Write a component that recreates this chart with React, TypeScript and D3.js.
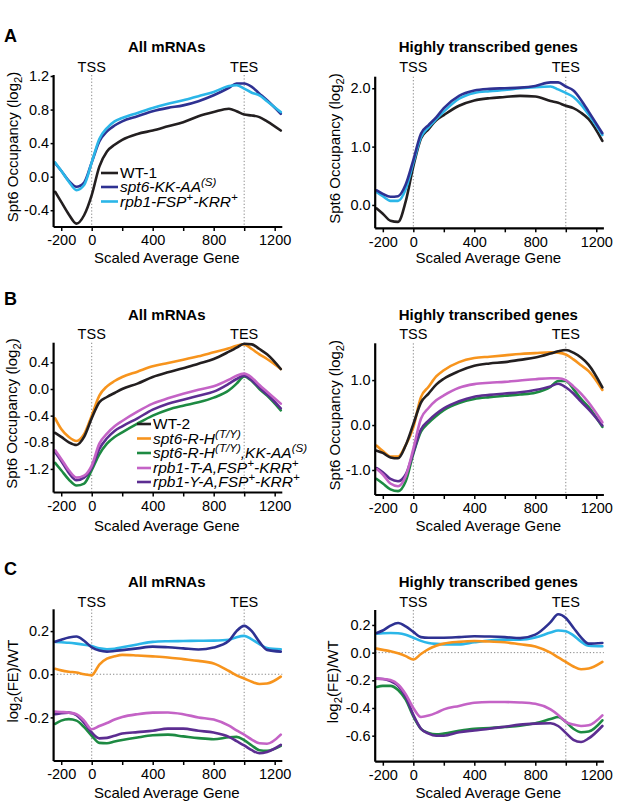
import React, { useEffect, useRef } from "react";
import * as d3 from "d3";

// ---------- DATA ----------
const X_POS = [-240, -200, -150, -100, -50, 0, 50, 100, 150, 200, 300, 400, 500, 600, 700, 800, 900, 950, 1000, 1050, 1100, 1150, 1240];
const X_TICKS = [-200, 0, 200, 400, 600, 800, 1000, 1200];
const X_TICK_LABELS = [-200, 0, 400, 800, 1200];

// Panel A – All mRNAs
const A_ALL_WT1 = [-0.18, -0.3, -0.45, -0.56, -0.46, -0.22, 0.12, 0.3, 0.38, 0.44, 0.51, 0.55, 0.6, 0.65, 0.72, 0.77, 0.81, 0.78, 0.74, 0.73, 0.71, 0.66, 0.55];
const A_ALL_KKAA = [0.16, 0.07, -0.05, -0.12, -0.07, 0.17, 0.42, 0.54, 0.61, 0.66, 0.72, 0.78, 0.82, 0.85, 0.9, 0.97, 1.06, 1.11, 1.11, 1.07, 0.99, 0.91, 0.75];
const A_ALL_FSP = [0.17, 0.07, -0.06, -0.16, -0.1, 0.17, 0.45, 0.58, 0.66, 0.7, 0.76, 0.82, 0.87, 0.91, 0.96, 1.01, 1.08, 1.09, 1.05, 1.0, 0.97, 0.9, 0.77];
// Panel A – Highly transcribed genes
const A_HIGH_WT1 = [-0.06, -0.15, -0.27, -0.29, 0.06, 0.66, 1.14, 1.3, 1.45, 1.54, 1.7, 1.79, 1.83, 1.85, 1.87, 1.86, 1.78, 1.75, 1.7, 1.66, 1.58, 1.47, 1.1];
const A_HIGH_KKAA = [0.25, 0.19, 0.14, 0.15, 0.35, 0.77, 1.22, 1.37, 1.5, 1.66, 1.87, 1.96, 1.99, 2.0, 2.01, 2.04, 2.1, 2.1, 2.03, 1.96, 1.8, 1.6, 1.23];
const A_HIGH_FSP = [0.22, 0.15, 0.07, 0.07, 0.27, 0.72, 1.16, 1.33, 1.47, 1.6, 1.82, 1.92, 1.95, 1.97, 2.0, 2.02, 2.03, 1.98, 1.92, 1.85, 1.72, 1.55, 1.2];

// Panel B – All mRNAs
const B_ALL_WT2 = [-0.66, -0.72, -0.8, -0.84, -0.72, -0.44, -0.2, -0.12, -0.06, 0.0, 0.08, 0.18, 0.25, 0.31, 0.38, 0.45, 0.56, 0.62, 0.68, 0.67, 0.6, 0.52, 0.3];
const B_ALL_RH = [-0.44, -0.6, -0.72, -0.78, -0.68, -0.4, -0.1, 0.04, 0.12, 0.18, 0.26, 0.34, 0.39, 0.44, 0.49, 0.55, 0.61, 0.65, 0.67, 0.6, 0.52, 0.45, 0.3];
const B_ALL_RHKK = [-1.11, -1.22, -1.36, -1.45, -1.42, -1.22, -0.98, -0.82, -0.72, -0.65, -0.52, -0.4, -0.31, -0.25, -0.2, -0.13, -0.02, 0.08, 0.19, 0.12, 0.0, -0.1, -0.32];
const B_ALL_TA = [-0.92, -1.05, -1.22, -1.33, -1.3, -1.15, -0.82, -0.67, -0.56, -0.48, -0.34, -0.22, -0.14, -0.07, -0.01, 0.04, 0.14, 0.2, 0.23, 0.17, 0.06, -0.04, -0.22];
const B_ALL_YA = [-0.95, -1.08, -1.26, -1.37, -1.33, -1.18, -0.9, -0.74, -0.63, -0.56, -0.44, -0.31, -0.22, -0.16, -0.1, -0.04, 0.08, 0.15, 0.2, 0.13, 0.02, -0.08, -0.29];
// Panel B – Highly transcribed genes
const B_HIGH_WT2 = [-0.57, -0.62, -0.72, -0.74, -0.45, 0.02, 0.5, 0.7, 0.9, 1.03, 1.2, 1.32, 1.37, 1.4, 1.45, 1.5, 1.59, 1.64, 1.67, 1.61, 1.5, 1.34, 0.84];
const B_HIGH_RH = [-0.46, -0.58, -0.7, -0.7, -0.45, -0.05, 0.62, 0.85, 1.08, 1.22, 1.4, 1.49, 1.52, 1.55, 1.58, 1.6, 1.62, 1.61, 1.57, 1.46, 1.33, 1.2, 0.78];
const B_HIGH_RHKK = [-1.2, -1.3, -1.43, -1.47, -1.25, -0.64, -0.15, 0.05, 0.2, 0.33, 0.49, 0.58, 0.62, 0.65, 0.68, 0.72, 0.85, 0.98, 0.98, 0.8, 0.58, 0.4, -0.04];
const B_HIGH_TA = [-0.98, -1.1, -1.3, -1.36, -1.14, -0.53, 0.14, 0.38, 0.55, 0.66, 0.83, 0.91, 0.94, 0.96, 0.99, 1.02, 1.04, 1.04, 1.0, 0.86, 0.7, 0.5, 0.06];
const B_HIGH_YA = [-0.96, -1.05, -1.2, -1.25, -1.1, -0.61, -0.1, 0.1, 0.25, 0.37, 0.53, 0.63, 0.67, 0.7, 0.73, 0.78, 0.86, 0.92, 0.84, 0.7, 0.52, 0.35, -0.01];

// Panel C – All mRNAs (log2 FE / WT)
const C_ALL_KKAA = [0.151, 0.16, 0.17, 0.175, 0.155, 0.125, 0.11, 0.105, 0.108, 0.112, 0.12, 0.128, 0.125, 0.12, 0.115, 0.124, 0.155, 0.2, 0.224, 0.2, 0.15, 0.113, 0.105];
const C_ALL_FSP = [0.15, 0.148, 0.146, 0.142, 0.137, 0.131, 0.12, 0.116, 0.118, 0.125, 0.138, 0.15, 0.153, 0.154, 0.155, 0.156, 0.16, 0.172, 0.178, 0.162, 0.14, 0.122, 0.116];
const C_ALL_RH = [0.025, 0.018, 0.012, 0.008, 0.0, -0.005, 0.045, 0.072, 0.083, 0.09, 0.087, 0.083, 0.078, 0.07, 0.062, 0.05, 0.015, -0.005, -0.02, -0.035, -0.045, -0.043, -0.011];
const C_ALL_TA = [-0.173, -0.175, -0.178, -0.185, -0.215, -0.255, -0.24, -0.226, -0.21, -0.198, -0.185, -0.178, -0.177, -0.185, -0.2, -0.21, -0.238, -0.26, -0.28, -0.303, -0.32, -0.322, -0.28];
const C_ALL_YA = [-0.185, -0.18, -0.178, -0.19, -0.225, -0.27, -0.297, -0.295, -0.285, -0.275, -0.268, -0.262, -0.252, -0.252, -0.262, -0.27, -0.29, -0.31, -0.33, -0.352, -0.366, -0.36, -0.327];
const C_ALL_RHKK = [-0.23, -0.215, -0.208, -0.215, -0.245, -0.285, -0.318, -0.32, -0.312, -0.305, -0.293, -0.283, -0.28, -0.288, -0.296, -0.301, -0.292, -0.29, -0.305, -0.33, -0.352, -0.355, -0.332];
// Panel C – Highly transcribed genes
const C_HIGH_KKAA = [0.142, 0.16, 0.195, 0.214, 0.19, 0.15, 0.112, 0.108, 0.108, 0.108, 0.112, 0.118, 0.116, 0.112, 0.105, 0.13, 0.22, 0.277, 0.25, 0.18, 0.11, 0.065, 0.07];
const C_HIGH_FSP = [0.137, 0.14, 0.142, 0.14, 0.13, 0.108, 0.085, 0.07, 0.063, 0.06, 0.06, 0.075, 0.088, 0.094, 0.094, 0.11, 0.145, 0.16, 0.155, 0.125, 0.08, 0.05, 0.046];
const C_HIGH_RH = [0.029, 0.02, 0.01, -0.005, -0.025, -0.05, -0.01, 0.025, 0.05, 0.065, 0.078, 0.084, 0.08, 0.075, 0.06, 0.045, 0.0, -0.035, -0.067, -0.1, -0.12, -0.115, -0.067];
const C_HIGH_TA = [-0.188, -0.19, -0.198, -0.23, -0.3, -0.4, -0.465, -0.455, -0.435, -0.41, -0.385, -0.362, -0.357, -0.357, -0.36, -0.37, -0.41, -0.45, -0.5, -0.52, -0.53, -0.525, -0.453];
const C_HIGH_YA = [-0.188, -0.19, -0.205, -0.24, -0.32, -0.45, -0.55, -0.585, -0.6, -0.6, -0.575, -0.562, -0.55, -0.535, -0.52, -0.513, -0.51, -0.53, -0.58, -0.63, -0.646, -0.62, -0.53];
const C_HIGH_RHKK = [-0.248, -0.24, -0.24, -0.27, -0.34, -0.46, -0.55, -0.58, -0.59, -0.585, -0.565, -0.55, -0.545, -0.537, -0.528, -0.51, -0.48, -0.465, -0.5, -0.55, -0.575, -0.57, -0.489];

const Y_TICKS_A_ALL = [-0.4, 0, 0.4, 0.8, 1.2];
const Y_TICKS_A_HIGH = [0, 1, 2];
const Y_TICKS_B_ALL = [-1.2, -0.8, -0.4, 0, 0.4];
const Y_TICKS_B_HIGH = [-1, 0, 1];
const Y_TICKS_C_ALL = [-0.2, 0, 0.2];
const Y_TICKS_C_HIGH = [-0.6, -0.4, -0.2, 0, 0.2];

// ---------- STYLE ----------
const FONT = "'Liberation Sans', Arial, Helvetica, sans-serif";
const COL = {
  black: "#231f20",
  dblue: "#2e3192",
  lblue: "#2bb6e8",
  orange: "#f7941d",
  green: "#1d8a42",
  pink: "#c463c6",
  purple: "#5c2d91",
};

type Part = { t: string; sup?: boolean; sub?: boolean; it?: boolean };

const LEG_A: { color: string; parts: Part[] }[] = [
  { color: COL.black, parts: [{ t: "WT-1" }] },
  { color: COL.dblue, parts: [{ t: "spt6-KK-AA", it: true }, { t: "(S)", sup: true, it: true }] },
  { color: COL.lblue, parts: [{ t: "rpb1-FSP", it: true }, { t: "+", sup: true, it: true }, { t: "-KRR", it: true }, { t: "+", sup: true, it: true }] },
];
const LEG_B: { color: string; parts: Part[] }[] = [
  { color: COL.black, parts: [{ t: "WT-2" }] },
  { color: COL.orange, parts: [{ t: "spt6-R-H", it: true }, { t: "(T/Y)", sup: true, it: true }] },
  { color: COL.green, parts: [{ t: "spt6-R-H", it: true }, { t: "(T/Y)", sup: true, it: true }, { t: ",KK-AA", it: true }, { t: "(S)", sup: true, it: true }] },
  { color: COL.pink, parts: [{ t: "rpb1-T-A,FSP", it: true }, { t: "+", sup: true, it: true }, { t: "-KRR", it: true }, { t: "+", sup: true, it: true }] },
  { color: COL.purple, parts: [{ t: "rpb1-Y-A,FSP", it: true }, { t: "+", sup: true, it: true }, { t: "-KRR", it: true }, { t: "+", sup: true, it: true }] },
];

const OCC_LABEL: Part[] = [{ t: "Spt6 Occupancy (log" }, { t: "2", sub: true }, { t: ")" }];
const FE_LABEL: Part[] = [{ t: "log" }, { t: "2", sub: true }, { t: "(FE)/WT" }];

type Panel = {
  xr: [number, number];
  yr: [number, number]; // bottom, top pixels
  yd: [number, number];
  yTicks: number[];
  title: string;
  titleY: number;
  tssY: number;
  xLabelY: number;
  yLabel: Part[];
  yLabelX: number;
  zeroLine: boolean;
  series: { v: number[]; c: string }[];
};

const LEFT_X: [number, number] = [53.6, 282.3];
const RIGHT_X: [number, number] = [375.2, 603.9];

const PANELS: Panel[] = [
  {
    xr: LEFT_X, yr: [227, 75], yd: [-0.6, 1.212], yTicks: Y_TICKS_A_ALL, title: "All mRNAs", titleY: 52, tssY: 71.5, xLabelY: 263,
    yLabel: OCC_LABEL, yLabelX: 18, zeroLine: false,
    series: [{ v: A_ALL_WT1, c: COL.black }, { v: A_ALL_KKAA, c: COL.dblue }, { v: A_ALL_FSP, c: COL.lblue }],
  },
  {
    xr: RIGHT_X, yr: [228.3, 76.7], yd: [-0.4, 2.198], yTicks: Y_TICKS_A_HIGH, title: "Highly transcribed genes", titleY: 52, tssY: 71.5, xLabelY: 263,
    yLabel: OCC_LABEL, yLabelX: 340, zeroLine: false,
    series: [{ v: A_HIGH_WT1, c: COL.black }, { v: A_HIGH_FSP, c: COL.lblue }, { v: A_HIGH_KKAA, c: COL.dblue }],
  },
  {
    xr: LEFT_X, yr: [492.5, 342.7], yd: [-1.554, 0.695], yTicks: Y_TICKS_B_ALL, title: "All mRNAs", titleY: 320, tssY: 339, xLabelY: 531,
    yLabel: OCC_LABEL, yLabelX: 17, zeroLine: false,
    series: [{ v: B_ALL_RH, c: COL.orange }, { v: B_ALL_WT2, c: COL.black }, { v: B_ALL_RHKK, c: COL.green }, { v: B_ALL_YA, c: COL.purple }, { v: B_ALL_TA, c: COL.pink }],
  },
  {
    xr: RIGHT_X, yr: [495, 343.3], yd: [-1.556, 1.818], yTicks: Y_TICKS_B_HIGH, title: "Highly transcribed genes", titleY: 320, tssY: 339, xLabelY: 531,
    yLabel: OCC_LABEL, yLabelX: 340, zeroLine: false,
    series: [{ v: B_HIGH_RH, c: COL.orange }, { v: B_HIGH_WT2, c: COL.black }, { v: B_HIGH_RHKK, c: COL.green }, { v: B_HIGH_YA, c: COL.purple }, { v: B_HIGH_TA, c: COL.pink }],
  },
  {
    xr: LEFT_X, yr: [761, 609.3], yd: [-0.402, 0.301], yTicks: Y_TICKS_C_ALL, title: "All mRNAs", titleY: 587, tssY: 606.5, xLabelY: 798,
    yLabel: FE_LABEL, yLabelX: 18, zeroLine: true,
    series: [{ v: C_ALL_FSP, c: COL.lblue }, { v: C_ALL_KKAA, c: COL.dblue }, { v: C_ALL_RH, c: COL.orange }, { v: C_ALL_RHKK, c: COL.green }, { v: C_ALL_YA, c: COL.purple }, { v: C_ALL_TA, c: COL.pink }],
  },
  {
    xr: RIGHT_X, yr: [761.7, 610], yd: [-0.788, 0.308], yTicks: Y_TICKS_C_HIGH, title: "Highly transcribed genes", titleY: 587, tssY: 606.5, xLabelY: 798,
    yLabel: FE_LABEL, yLabelX: 338, zeroLine: true,
    series: [{ v: C_HIGH_FSP, c: COL.lblue }, { v: C_HIGH_KKAA, c: COL.dblue }, { v: C_HIGH_RH, c: COL.orange }, { v: C_HIGH_RHKK, c: COL.green }, { v: C_HIGH_YA, c: COL.purple }, { v: C_HIGH_TA, c: COL.pink }],
  },
];

function richText(sel: d3.Selection<SVGTextElement, unknown, null, undefined>, parts: Part[], size: number) {
  let shift = 0;
  parts.forEach((p) => {
    const target = p.sup ? -0.38 * size : p.sub ? 0.28 * size : 0;
    const ts = sel.append("tspan").text(p.t).attr("dy", target - shift);
    shift = target;
    if (p.sup || p.sub) ts.attr("font-size", size * 0.75);
    if (p.it) ts.attr("font-style", "italic");
  });
}

export default function App() {
  const ref = useRef<SVGSVGElement>(null);

  useEffect(() => {
    const svg = d3.select(ref.current);
    svg.selectAll("*").remove();
    const root = svg.append("g").attr("font-family", FONT);

    // panel letters
    [["A", 42], ["B", 305], ["C", 575]].forEach(([l, y]) => {
      root.append("text").text(l as string).attr("x", 4).attr("y", y as number)
        .attr("font-size", 18).attr("font-weight", "bold").attr("fill", "#000");
    });

    PANELS.forEach((p) => {
      const x = d3.scaleLinear().domain([-250, 1250]).range(p.xr);
      const y = d3.scaleLinear().domain(p.yd).range(p.yr);
      const g = root.append("g");
      const cx = (p.xr[0] + p.xr[1]) / 2 - 1.2;

      // title
      g.append("text").text(p.title).attr("x", cx).attr("y", p.titleY)
        .attr("text-anchor", "middle").attr("font-size", 15).attr("font-weight", "bold");

      // TSS / TES
      [[0, "TSS"], [1000, "TES"]].forEach(([v, t]) => {
        g.append("text").text(t as string).attr("x", x(v as number)).attr("y", p.tssY)
          .attr("text-anchor", "middle").attr("font-size", 14.5);
        g.append("line").attr("x1", x(v as number)).attr("x2", x(v as number))
          .attr("y1", p.yr[1]).attr("y2", p.yr[0])
          .attr("stroke", "#8a8a8a").attr("stroke-width", 1).attr("stroke-dasharray", "1.3,2");
      });
      if (p.zeroLine) {
        g.append("line").attr("x1", p.xr[0]).attr("x2", p.xr[1]).attr("y1", y(0)).attr("y2", y(0))
          .attr("stroke", "#8a8a8a").attr("stroke-width", 1).attr("stroke-dasharray", "1.3,2");
      }

      // curves
      const line = d3.line<number>().x((_, i) => x(X_POS[i])).y((d) => y(d)).curve(d3.curveMonotoneX);
      p.series.forEach((s) => {
        g.append("path").attr("d", line(s.v)!).attr("fill", "none").attr("stroke", s.c)
          .attr("stroke-width", 2.6).attr("stroke-linejoin", "round").attr("stroke-linecap", "round");
      });

      // axes
      const xAxis = d3.axisBottom(x).tickValues(X_TICKS).tickSize(4).tickPadding(4)
        .tickFormat((d) => (X_TICK_LABELS.includes(d as number) ? String(d) : ""));
      const gx = g.append("g").attr("transform", `translate(0,${p.yr[0]})`).call(xAxis);
      const yAxis = d3.axisLeft(y).tickValues(p.yTicks).tickSize(3).tickPadding(1.5)
        .tickFormat((d) => (d as number).toFixed(1));
      const gy = g.append("g").attr("transform", `translate(${p.xr[0]},0)`).call(yAxis);
      [gx, gy].forEach((ax) => {
        ax.select(".domain").attr("stroke", "#000").attr("stroke-width", 2.2);
        ax.selectAll(".tick line").attr("stroke", "#000").attr("stroke-width", 1.5);
        ax.selectAll(".tick text").attr("font-size", 14.5).attr("font-family", FONT).attr("fill", "#000");
      });
      gx.select(".domain").attr("d", `M${p.xr[0]},0H${p.xr[1]}`);
      gy.select(".domain").attr("d", `M0,${p.yr[1]}V${p.yr[0]}`);

      // x label
      g.append("text").text("Scaled Average Gene").attr("x", cx).attr("y", p.xLabelY)
        .attr("text-anchor", "middle").attr("font-size", 15);

      // y label
      const yl = g.append("text")
        .attr("transform", `translate(${p.yLabelX},${(p.yr[0] + p.yr[1]) / 2 - 4}) rotate(-90)`)
        .attr("text-anchor", "middle").attr("font-size", 15);
      richText(yl as any, p.yLabel, 15);
    });

    // legends
    const drawLegend = (items: typeof LEG_A, x1: number, x2: number, ys: number[]) => {
      items.forEach((it, i) => {
        root.append("line").attr("x1", x1).attr("x2", x2).attr("y1", ys[i]).attr("y2", ys[i])
          .attr("stroke", it.color).attr("stroke-width", 2.6);
        const t = root.append("text").attr("x", x2 + 2).attr("y", ys[i] + 5.3).attr("font-size", 15.5);
        richText(t as any, it.parts, 15.5);
      });
    };
    drawLegend(LEG_A, 101, 118, [173, 187, 201.5]);
    drawLegend(LEG_B, 137, 151, [424, 438.5, 453, 468, 482]);
  }, []);

  return (
    <svg ref={ref} width={617} height={806}
      style={{ position: "absolute", left: 0, top: 0, background: "#fff" }} />
  );
}
